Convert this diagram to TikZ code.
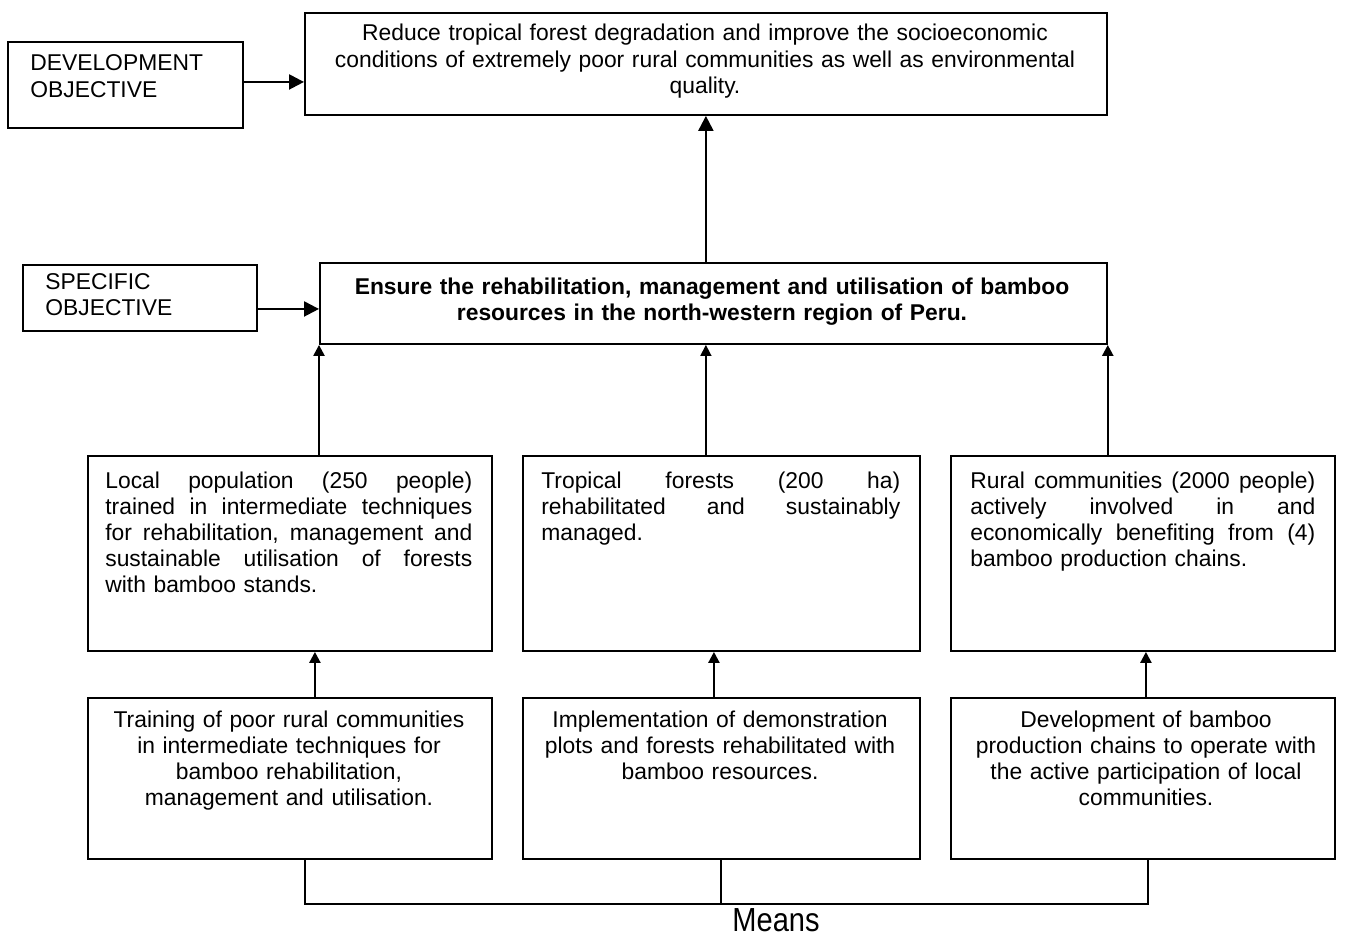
\documentclass[tikz,border=0pt]{standalone}
\usepackage{fontspec}
\usepackage{graphicx}
\setmainfont{Liberation Sans}
\usetikzlibrary{arrows.meta}
% one justified line of a given width, words spread by \hfill
\newcommand{\jline}[2]{\leavevmode\hbox to #1{#2}}
\begin{document}
\begin{tikzpicture}[x=0.02cm,y=-0.02cm,
  box/.style={draw, line width=1.1pt, rectangle, inner sep=0pt, anchor=north west},
  txt/.style={inner sep=0pt, font=\fontsize{13}{14.8}\selectfont},
  line/.style={line width=1.1pt},
  bigarr/.style={line width=1.3pt, -{Triangle[length=0.3cm,width=0.3cm]}},
  smallarr/.style={line width=1.3pt, -{Triangle[length=0.22cm,width=0.22cm]}},
  thinarr/.style={line width=0.9pt, -{Triangle[length=0.22cm,width=0.22cm]}}]
\useasboundingbox (0,0) rectangle (1351,936);

% objective boxes
\node[box, minimum width=4.7cm, minimum height=1.72cm] (dev) at (7,41) {};
\node[box, minimum width=16.04cm, minimum height=2.04cm] (goal) at (304,12) {};
\node[box, minimum width=4.68cm, minimum height=1.32cm] (spec) at (22,264) {};
\node[box, minimum width=15.74cm, minimum height=1.62cm] (sobj) at (319,262) {};

% outputs
\node[box, minimum width=8.08cm, minimum height=3.9cm] (out1) at (87,455) {};
\node[box, minimum width=7.94cm, minimum height=3.9cm] (out2) at (522,455) {};
\node[box, minimum width=7.68cm, minimum height=3.9cm] (out3) at (950,455) {};

% activities
\node[box, minimum width=8.08cm, minimum height=3.22cm] (act1) at (87,697) {};
\node[box, minimum width=7.94cm, minimum height=3.22cm] (act2) at (522,697) {};
\node[box, minimum width=7.68cm, minimum height=3.22cm] (act3) at (950,697) {};

% texts
\node[txt, anchor=base west, text width=5cm, align=left] (devt) at (30,71)
  {DEVELOPMENT\\OBJECTIVE};
\node[txt, anchor=base, text width=15.6cm, align=center] (goalt) at (705,41)
  {Reduce tropical forest degradation and improve the socioeconomic\\
   conditions of extremely poor rural communities as well as environmental\\
   quality.};
\node[txt, anchor=base west, text width=4cm, align=left] (spect) at (45,289)
  {SPECIFIC\\OBJECTIVE};
\node[txt, anchor=base, text width=15.5cm, align=center, font=\fontsize{13}{14.8}\selectfont\bfseries] (sobjt) at (712,294)
  {Ensure the rehabilitation, management and utilisation of bamboo\\
   resources in the north-western region of Peru.};

\node[txt, anchor=base west, text width=7.34cm, align=left] (out1t) at (105,488)
  {\jline{7.34cm}{Local\hfill population\hfill (250\hfill people)}\\
   \jline{7.34cm}{trained\hfill in\hfill intermediate\hfill techniques}\\
   \jline{7.34cm}{for\hfill rehabilitation,\hfill management\hfill and}\\
   \jline{7.34cm}{sustainable\hfill utilisation\hfill of\hfill forests}\\
   with bamboo stands.};
\node[txt, anchor=base west, text width=7.18cm, align=left] (out2t) at (541,488)
  {\jline{7.18cm}{Tropical\hfill forests\hfill (200\hfill ha)}\\
   \jline{7.18cm}{rehabilitated\hfill and\hfill sustainably}\\
   managed.};
\node[txt, anchor=base west, text width=6.9cm, align=left] (out3t) at (970,488)
  {\jline{6.9cm}{Rural\hfill communities\hfill (2000\hfill people)}\\
   \jline{6.9cm}{actively\hfill involved\hfill in\hfill and}\\
   \jline{6.9cm}{economically\hfill benefiting\hfill from\hfill (4)}\\
   bamboo production chains.};

\node[txt, anchor=base, text width=7.8cm, align=center] (act1t) at (289,727)
  {Training of poor rural communities\\
   in intermediate techniques for\\
   bamboo rehabilitation,\\
   management and utilisation.};
\node[txt, anchor=base, text width=7.8cm, align=center] (act2t) at (720,727)
  {Implementation of demonstration\\
   plots and forests rehabilitated with\\
   bamboo resources.};
\node[txt, anchor=base, text width=7.5cm, align=center] (act3t) at (1146,727)
  {Development of bamboo\\
   production chains to operate with\\
   the active participation of local\\
   communities.};

% connectors between levels
\draw[bigarr] ([yshift=0.06cm]dev.east) -- ([yshift=0.06cm]dev.east -| goal.west);
\draw[bigarr] ([yshift=-0.22cm]spec.east) -- ([yshift=-0.22cm]spec.east -| sobj.west);
\draw[bigarr] (goal.south |- sobj.north) -- (goal.south);

\draw[smallarr] (sobj.south west |- out1.north) -- (sobj.south west);
\draw[thinarr] (goal.south |- out2.north) -- (goal.south |- sobj.south);
\draw[smallarr] (sobj.south east |- out3.north) -- (sobj.south east);

\draw[smallarr] ([xshift=0.5cm]act1.north) -- ([xshift=0.5cm]out1.south);
\draw[smallarr] ([xshift=-0.15cm]act2.north) -- ([xshift=-0.15cm]out2.south);
\draw[smallarr] ([xshift=0.06cm]act3.north) -- ([xshift=0.06cm]out3.south);

% means bracket
\coordinate (bar) at (0,904);
\draw[line] ([xshift=0.3cm]act1.south) |- ([xshift=0.1cm]act3.south |- bar) -- ([xshift=0.1cm]act3.south);
\draw[line] (act2.south) -- (act2.south |- bar);
\node[inner sep=0pt, anchor=base, font=\fontsize{19}{22}\selectfont] (means) at (776,931)
  {\scalebox{0.87}[1]{Means}};
\end{tikzpicture}
\end{document}
